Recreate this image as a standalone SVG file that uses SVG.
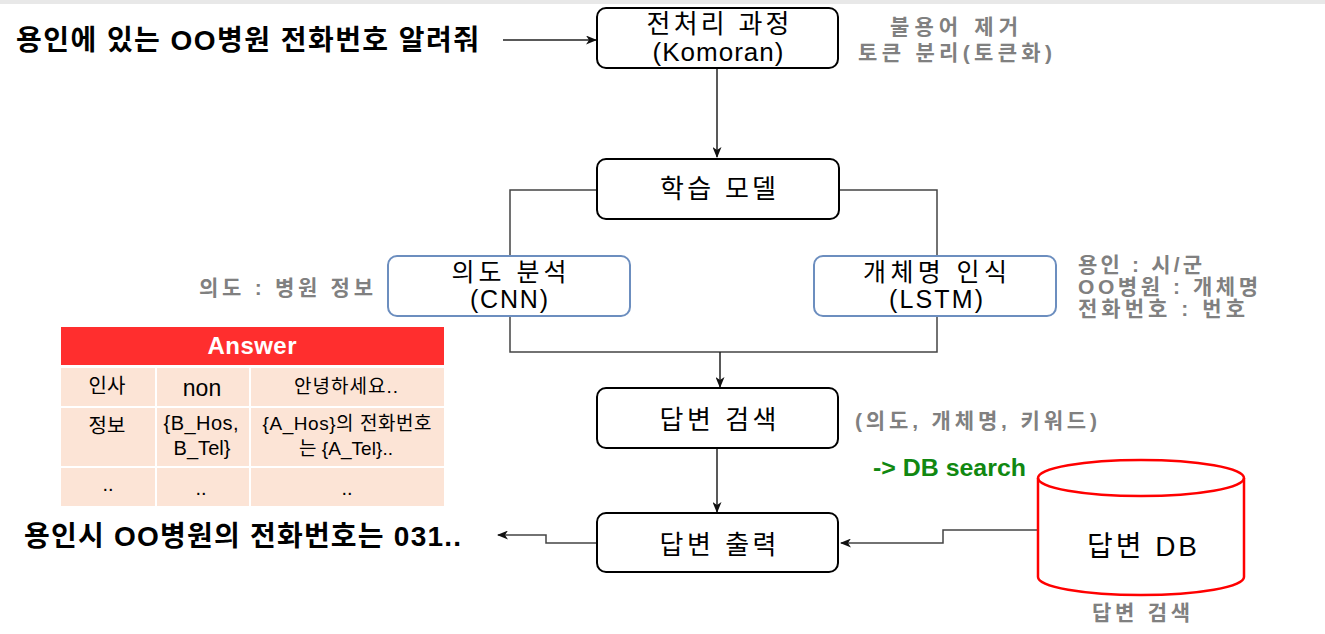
<svg xmlns="http://www.w3.org/2000/svg" width="1325" height="634" viewBox="0 0 1325 634">
<style>
.node{fill:#fff;stroke:#000;stroke-width:2}
.bnode{fill:#fff;stroke:#6c8ebf;stroke-width:2}
.nt{font-family:"Liberation Sans","Noto Sans CJK KR",sans-serif;font-size:26px;fill:#000;text-anchor:middle}
.nt2{font-family:"Liberation Sans","Noto Sans CJK KR",sans-serif;font-size:25px;fill:#000;text-anchor:middle}
.big{font-family:"Liberation Sans","Noto Sans CJK KR",sans-serif;font-size:28px;font-weight:bold;fill:#000}
.ann{font-family:"Liberation Sans","Noto Sans CJK KR",sans-serif;font-size:21px;font-weight:bold;fill:#808080}
.cell{fill:#fce4d6}
.ct{font-family:"Liberation Sans","Noto Sans CJK KR",sans-serif;font-size:19px;fill:#000;text-anchor:middle}
.ct20{font-family:"Liberation Sans","Noto Sans CJK KR",sans-serif;font-size:20px;fill:#000;text-anchor:middle}
.ln{fill:none;stroke:#222;stroke-width:1.5}
.gl{fill:none;stroke:#444;stroke-width:1.5}
</style>
<defs>
<marker id="arr" viewBox="0 0 11 9" markerWidth="11" markerHeight="9" refX="10" refY="4.5" orient="auto" markerUnits="userSpaceOnUse">
<path d="M0,0 L11,4.5 L0,9 L3,4.5 z" fill="#111"/>
</marker>
</defs>
<rect x="0" y="0" width="1325" height="4" fill="#e8e8e8"/>

<g id="connectors">
<path class="ln" d="M503,40 H596" marker-end="url(#arr)"/>
<path class="ln" d="M717,69 V157" marker-end="url(#arr)"/>
<path class="gl" d="M597,190 H510 V255"/>
<path class="gl" d="M840,190 H937 V255"/>
<path class="gl" d="M510,316 V352 H937 V316"/>
<path class="ln" d="M720,352 V387" marker-end="url(#arr)"/>
<path class="ln" d="M717,448 V512" marker-end="url(#arr)"/>
<path class="gl" d="M1038,530 H943 V543 H841" marker-end="url(#arr)"/>
<path class="gl" d="M597,543 H546 V535 H498" marker-end="url(#arr)"/>
</g>

<g id="input">
<text class="big" x="16" y="50" textLength="463">용인에 있는 OO병원 전화번호 알려줘</text>
</g>
<g id="output">
<text class="big" x="24" y="546" textLength="437">용인시 OO병원의 전화번호는 031..</text>
</g>

<g id="preprocess">
<rect class="node" x="597" y="8" width="241" height="60" rx="9"/>
<text class="nt" x="718" y="33" textLength="143">전처리 과정</text>
<text class="nt" x="718" y="61" textLength="131">(Komoran)</text>
</g>
<g id="preprocess-note">
<text class="ann" x="954" y="34" text-anchor="middle" textLength="128">불용어 제거</text>
<text class="ann" x="955" y="60" text-anchor="middle" textLength="194">토큰 분리(토큰화)</text>
</g>

<g id="model">
<rect class="node" x="597" y="159" width="242" height="60" rx="9"/>
<text class="nt" x="718" y="198" textLength="116">학습 모델</text>
</g>

<g id="intent">
<rect class="bnode" x="388" y="256" width="242" height="60" rx="9"/>
<text class="nt2" x="509" y="281" textLength="115">의도 분석</text>
<text class="nt2" x="509" y="308" textLength="78">(CNN)</text>
</g>
<g id="intent-note">
<text class="ann" x="199" y="295" textLength="174">의도 : 병원 정보</text>
</g>

<g id="ner">
<rect class="bnode" x="814" y="256" width="242" height="60" rx="9"/>
<text class="nt2" x="935" y="281" textLength="144">개체명 인식</text>
<text class="nt2" x="936" y="308" textLength="94">(LSTM)</text>
</g>
<g id="ner-note">
<text class="ann" x="1078" y="272" textLength="124">용인 : 시/군</text>
<text class="ann" x="1078" y="294" textLength="180">OO병원 : 개체명</text>
<text class="ann" x="1078" y="316" textLength="167">전화번호 : 번호</text>
</g>

<g id="search">
<rect class="node" x="597" y="388" width="241" height="60" rx="9"/>
<text class="nt" x="718" y="429" textLength="117">답변 검색</text>
</g>
<g id="search-note">
<text class="ann" x="855" y="428" textLength="242">(의도, 개체명, 키워드)</text>
<text x="873" y="476" font-family="Liberation Sans, sans-serif" font-size="24" font-weight="bold" fill="#118811" textLength="153" lengthAdjust="spacingAndGlyphs">-&gt; DB search</text>
</g>

<g id="output-node">
<rect class="node" x="597" y="513" width="241" height="59" rx="9"/>
<text class="nt" x="718" y="554" textLength="117">답변 출력</text>
</g>

<g id="db">
<path d="M1038,478 A103,18 0 0 1 1244,478 V577 A103,18 0 0 1 1038,577 Z" fill="#fff" stroke="#ff0000" stroke-width="2.5"/>
<path d="M1038,478 A103,18 0 0 0 1244,478" fill="none" stroke="#ff0000" stroke-width="2.5"/>
<text class="nt" x="1142" y="556" style="font-size:28px" textLength="110">답변 DB</text>
<text class="ann" x="1141" y="620" text-anchor="middle" textLength="98">답변 검색</text>
</g>

<g id="answer-table">
<rect x="61" y="327" width="383" height="38" fill="#ff2e2e"/>
<text x="252" y="354" font-family="Liberation Sans, sans-serif" font-size="24" font-weight="bold" fill="#fff" text-anchor="middle" textLength="89">Answer</text>
<rect class="cell" x="61" y="368" width="94" height="38"/>
<rect class="cell" x="157" y="368" width="92" height="38"/>
<rect class="cell" x="251" y="368" width="193" height="38"/>
<rect class="cell" x="61" y="408" width="94" height="58"/>
<rect class="cell" x="157" y="408" width="92" height="58"/>
<rect class="cell" x="251" y="408" width="193" height="58"/>
<rect class="cell" x="61" y="468" width="94" height="38"/>
<rect class="cell" x="157" y="468" width="92" height="38"/>
<rect class="cell" x="251" y="468" width="193" height="38"/>
<text class="ct20" x="107" y="393">인사</text>
<text class="ct" x="202" y="396" style="font-size:23px">non</text>
<text class="ct" x="346" y="393" textLength="104">안녕하세요..</text>
<text class="ct20" x="107" y="433">정보</text>
<text class="ct20" x="201" y="430" textLength="75">{B_Hos,</text>
<text class="ct20" x="202" y="455" textLength="57">B_Tel}</text>
<text class="ct" x="347" y="430" textLength="169">{A_Hos}의 전화번호</text>
<text class="ct" x="346" y="455" textLength="94">는 {A_Tel}..</text>
<text class="ct20" x="108" y="491">..</text>
<text class="ct20" x="201" y="495">..</text>
<text class="ct20" x="347" y="495">..</text>
</g>
</svg>
